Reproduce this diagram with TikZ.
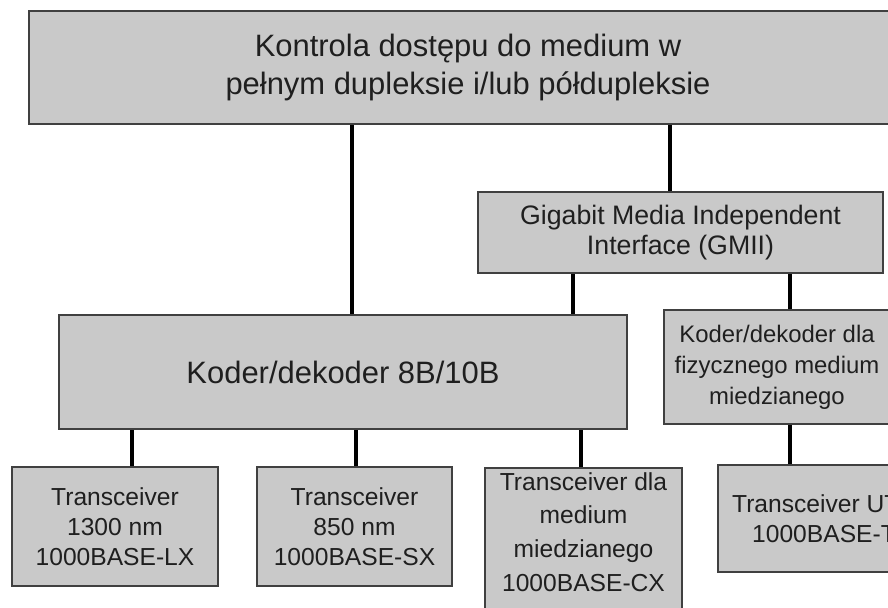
\documentclass[tikz,border=0pt]{standalone}
\usepackage{fontspec}
\setmainfont{Liberation Sans}
\tikzset{
  blok/.style={draw=black!75, line width=1.5pt, fill=black!21, align=center, text=black!88, inner sep=2pt},
  polacz/.style={line width=2.6pt, black},
}
\begin{document}
\begin{tikzpicture}[x=0.025cm,y=-0.025cm]
\useasboundingbox (0,0) rectangle (888,607);
\clip (0,0) rectangle (888,607);
% gorny poziom
\node[blok, minimum width=21.95cm, minimum height=2.825cm, font=\fontsize{22}{27}\selectfont] (mac) at (468,67.5) {Kontrola dostępu do medium w\\pełnym dupleksie i/lub półdupleksie};
\node[blok, minimum width=10.125cm, minimum height=2.025cm, font=\fontsize{19}{21.5}\selectfont] (gmii) at (680.5,232.5) {Gigabit Media Independent\\Interface (GMII)};
% kodery
\node[blok, minimum width=14.2cm, minimum height=2.85cm, font=\fontsize{22}{27}\selectfont] (koder) at (343,372) {Koder/dekoder 8B/10B};
\node[blok, minimum width=5.65cm, minimum height=2.85cm, font=\fontsize{17}{22}\selectfont] (cukoder) at (777,367) {Koder/dekoder dla\\fizycznego medium\\miedzianego};
% transceivery
\node[blok, minimum width=5.15cm, minimum height=2.975cm, font=\fontsize{17.5}{21.5}\selectfont] (trA) at (115,526.5) {Transceiver\\1300 nm\\1000BASE-LX};
\node[blok, minimum width=4.875cm, minimum height=2.975cm, font=\fontsize{17.5}{21.5}\selectfont] (trB) at (354.5,526.5) {Transceiver\\850 nm\\1000BASE-SX};
\node[blok, anchor=north, minimum width=4.925cm, inner ysep=3pt, text depth=3.3cm, font=\fontsize{17.5}{24}\selectfont] (trC) at (583.5,467) {Transceiver dla\\medium\\miedzianego\\1000BASE-CX};
\node[blok, minimum width=5.3cm, minimum height=2.675cm, font=\fontsize{17.5}{21.5}\selectfont] (trD) at (824,518.5) {Transceiver UTP\\1000BASE-T};
% polaczenia
\draw[polacz] (mac.south -| 352,0) -- (koder.north -| 352,0);
\draw[polacz] (mac.south -| 670,0) -- (gmii.north -| 670,0);
\draw[polacz] (gmii.south -| 573,0) -- (koder.north -| 573,0);
\draw[polacz] (gmii.south -| 790,0) -- (cukoder.north -| 790,0);
\draw[polacz] (koder.south -| 132,0) -- (trA.north -| 132,0);
\draw[polacz] (koder.south -| 356,0) -- (trB.north -| 356,0);
\draw[polacz] (koder.south -| 581,0) -- (trC.north -| 581,0);
\draw[polacz] (cukoder.south -| 790,0) -- (trD.north -| 790,0);
\end{tikzpicture}
\end{document}
